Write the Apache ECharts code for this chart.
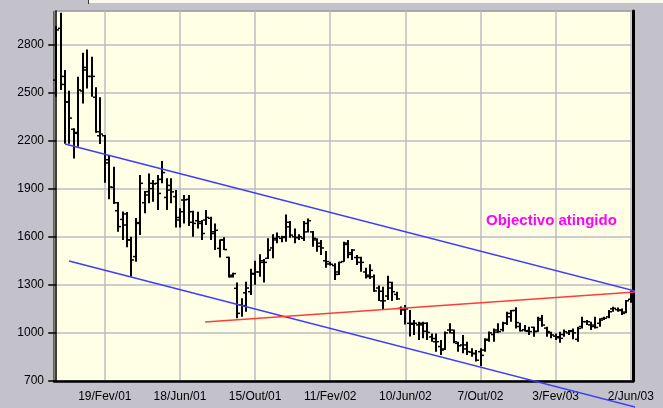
<!DOCTYPE html>
<html><head><meta charset="utf-8">
<script src="https://cdn.jsdelivr.net/npm/echarts@6/dist/echarts.min.js"></script>
<style>html,body{margin:0;padding:0;background:#C3C1CA;overflow:hidden}#c{width:663px;height:408px}</style>
</head><body><div id="c"></div>
<script>
const startDate = [2000, 11, 4];
const monthNames = ['Jan','Fev','Mar','Abr','Mai','Jun','Jul','Ago','Set','Out','Nov','Dez'];
const tickLabels = ['19/Fev/01','18/Jun/01','15/Out/01','11/Fev/02','10/Jun/02','7/Out/02','3/Fev/03','2/Jun/03'];
const yTicks = [700, 1000, 1300, 1600, 1900, 2200, 2500, 2800];

const opens = [2577,2900,2600,2440,2270,2250,2509,2640,2600,2470,2230,2230,2080,1908,1762,1708,1742,1580,1476,1688,
1812,1860,1933,1933,1958,1845,1891,1850,1720,1829,1833,1756,1700,1694,1704,1715,1631,1527,1580,1471,
1360,1278,1174,1250,1257,1371,1380,1450,1465,1530,1580,1590,1600,1690,1600,1595,1590,1683,1630,1580,
1540,1450,1430,1420,1380,1445,1560,1500,1470,1440,1380,1360,1350,1280,1200,1230,1280,1240,1153,1150,
1060,1060,1050,1060,1010,975,945,915,900,1018,1000,935,925,900,880,870,883,893,960,990,
1005,1020,1060,1100,1140,1040,1020,1010,1035,1010,1080,1030,1000,980,970,990,1000,1010,960,1040,
1070,1050,1040,1060,1090,1100,1150,1145,1140,1130,1210];
const highs = [2914,2997,2640,2510,2276,2598,2747,2768,2723,2532,2470,2234,2108,2037,1816,1758,1754,1600,1717,1985,
1885,1995,1954,1985,2072,1964,1964,1891,1777,1860,1860,1762,1756,1704,1766,1725,1683,1583,1596,1475,
1376,1315,1216,1319,1400,1450,1490,1461,1590,1615,1627,1606,1739,1698,1652,1615,1698,1714,1635,1590,
1579,1511,1444,1434,1444,1569,1579,1523,1486,1475,1407,1428,1365,1295,1288,1357,1319,1257,1164,1174,
1143,1080,1070,1070,1066,997,997,956,1008,1060,1022,945,987,945,904,893,904,966,1008,1028,
1060,1070,1132,1143,1160,1064,1049,1039,1039,1101,1111,1039,1007,997,1007,1022,1018,1028,1039,1101,
1080,1070,1101,1091,1101,1143,1163,1159,1153,1205,1265];
const lows = [2473,2515,2180,2180,2088,2161,2431,2525,2473,2249,2178,1937,1833,1804,1631,1580,1534,1351,1444,1611,
1746,1808,1818,1766,1933,1766,1808,1658,1658,1683,1667,1600,1652,1579,1673,1579,1517,1471,1517,1346,
1346,1091,1101,1132,1236,1300,1351,1315,1461,1465,1559,1565,1569,1594,1559,1580,1573,1627,1538,1507,
1486,1407,1420,1330,1361,1444,1465,1455,1423,1382,1340,1336,1257,1199,1149,1205,1199,1205,1112,1053,
977,987,956,966,956,945,883,862,893,997,935,883,873,862,852,821,794,883,945,945,
1001,1008,1049,1070,1028,1008,1008,987,976,1007,1039,976,966,955,939,976,987,960,945,1028,
1049,1018,1028,1039,1080,1091,1132,1132,1111,1122,1188];
const closes = [2890,2550,2440,2340,2245,2515,2656,2600,2600,2255,2240,2060,1910,1812,1663,1673,1580,1455,1683,1933,
1881,1900,1930,1870,2000,1920,1880,1704,1756,1830,1690,1683,1683,1620,1720,1620,1640,1580,1520,1350,
1370,1122,1170,1280,1367,1380,1440,1440,1517,1590,1600,1595,1662,1610,1595,1600,1630,1700,1590,1560,
1530,1445,1428,1365,1440,1552,1490,1517,1470,1440,1351,1390,1262,1260,1200,1315,1257,1212,1143,1150,
1054,1060,1050,1060,1003,965,945,893,1000,1018,945,920,925,883,873,830,860,955,1000,1018,
1008,1060,1122,1139,1064,1014,1014,1008,1008,1090,1049,1008,987,976,966,1007,1014,1000,1028,1070,
1070,1049,1034,1080,1091,1132,1153,1143,1122,1200,1255];

const upperLine = [[2, 2178], [140, 1197]];
const lowerLine = [[2.9, 1448], [140, 473]];
const redLine = [[33.7, 1068], [140, 1272]];
const noteText = 'Objectivo atingido';

const categories = [];
for (let i = 0; i < opens.length; i++) {
  const d = new Date(Date.UTC(startDate[0], startDate[1], startDate[2] + 7 * i));
  categories.push(d.getUTCDate() + '/' + monthNames[d.getUTCMonth()] + '/' + String(d.getUTCFullYear()).slice(2));
}
const showTick = (idx) => tickLabels.indexOf(categories[idx]) >= 0;
const ohlcData = opens.map((o, i) => [i, o, closes[i], lows[i], highs[i]]);

function renderOHLC(params, api) {
  const x = api.value(0);
  const o = api.coord([x, api.value(1)]);
  const c = api.coord([x, api.value(2)]);
  const l = api.coord([x, api.value(3)]);
  const h = api.coord([x, api.value(4)]);
  const cx = Math.round(o[0]);
  const w = 3;
  const ts = { stroke: '#000', lineWidth: 1.5 };
  return { type: 'group', children: [
    { type: 'line', shape: { x1: cx, y1: h[1], x2: cx, y2: l[1] }, style: { stroke: '#000', lineWidth: 2 } },
    { type: 'line', shape: { x1: cx - w, y1: o[1], x2: cx, y2: o[1] }, style: ts },
    { type: 'line', shape: { x1: cx, y1: c[1], x2: cx + w, y2: c[1] }, style: ts }
  ]};
}

const font = "'Liberation Sans', Arial, sans-serif";
const chart = echarts.init(document.getElementById('c'), null, { renderer: 'canvas' });
chart.setOption({
  animation: false,
  backgroundColor: '#C3C1CA',
  grid: { left: 54, top: 11, right: 30, bottom: 27, show: true, backgroundColor: '#FFFFE6', borderColor: '#000', borderWidth: 1 },
  xAxis: [{
    type: 'category', data: categories, boundaryGap: true,
    axisLine: { lineStyle: { color: '#000', width: 2.5 } },
    axisTick: { alignWithLabel: true, interval: showTick, length: 7, lineStyle: { color: '#000', width: 1.5 } },
    axisLabel: { interval: showTick, color: '#000', fontSize: 12, fontFamily: font, margin: 10 },
    splitLine: { show: true, alignWithLabel: true, interval: showTick, lineStyle: { color: '#BDBDC3', width: 1.5 } }
  }, {
    type: 'value', min: -0.5, max: 130.5, show: false
  }],
  yAxis: [{
    type: 'value', min: 700, max: 3008, interval: 300,
    axisLine: { show: true, lineStyle: { color: '#000', width: 1.5 } },
    axisTick: { show: true, length: 8, lineStyle: { color: '#000', width: 1.5 } },
    axisLabel: { color: '#000', fontSize: 12, fontFamily: font, margin: 10, showMaxLabel: false,
      formatter: (v) => (yTicks.indexOf(v) >= 0 ? String(v) : '') },
    splitLine: { show: true, lineStyle: { color: '#BDBDC3', width: 1.5 } }
  }, {
    type: 'value', min: 700, max: 3008, interval: 300, position: 'right',
    axisLine: { show: true, lineStyle: { color: '#000', width: 3 } },
    axisTick: { show: false }, axisLabel: { show: false }, splitLine: { show: false }
  }],
  series: [{
    type: 'custom', renderItem: renderOHLC, data: ohlcData, encode: { x: 0, y: [1, 2, 3, 4] }, z: 3
  }, {
    type: 'line', xAxisIndex: 1, data: upperLine, symbol: 'none', clip: false, z: 4,
    lineStyle: { color: '#3C3CFF', width: 1.5 }
  }, {
    type: 'line', xAxisIndex: 1, data: lowerLine, symbol: 'none', clip: false, z: 4,
    lineStyle: { color: '#3C3CFF', width: 1.5 }
  }, {
    type: 'line', xAxisIndex: 1, data: redLine, symbol: 'none', clip: false, z: 4,
    lineStyle: { color: '#FF3C3C', width: 1.5 }
  }],
  graphic: [
    { type: 'rect', shape: { x: 88, y: 0, width: 575, height: 3 }, style: { fill: '#FAF9EE' } },
    { type: 'rect', shape: { x: 88, y: 0, width: 1, height: 4 }, style: { fill: '#333' } },
    { type: 'text', left: 486, top: 213, style: { text: noteText, fill: '#FF00FF', font: "bold 15px 'Liberation Sans', Arial, sans-serif" } }
  ]
});
</script>
</body></html>
